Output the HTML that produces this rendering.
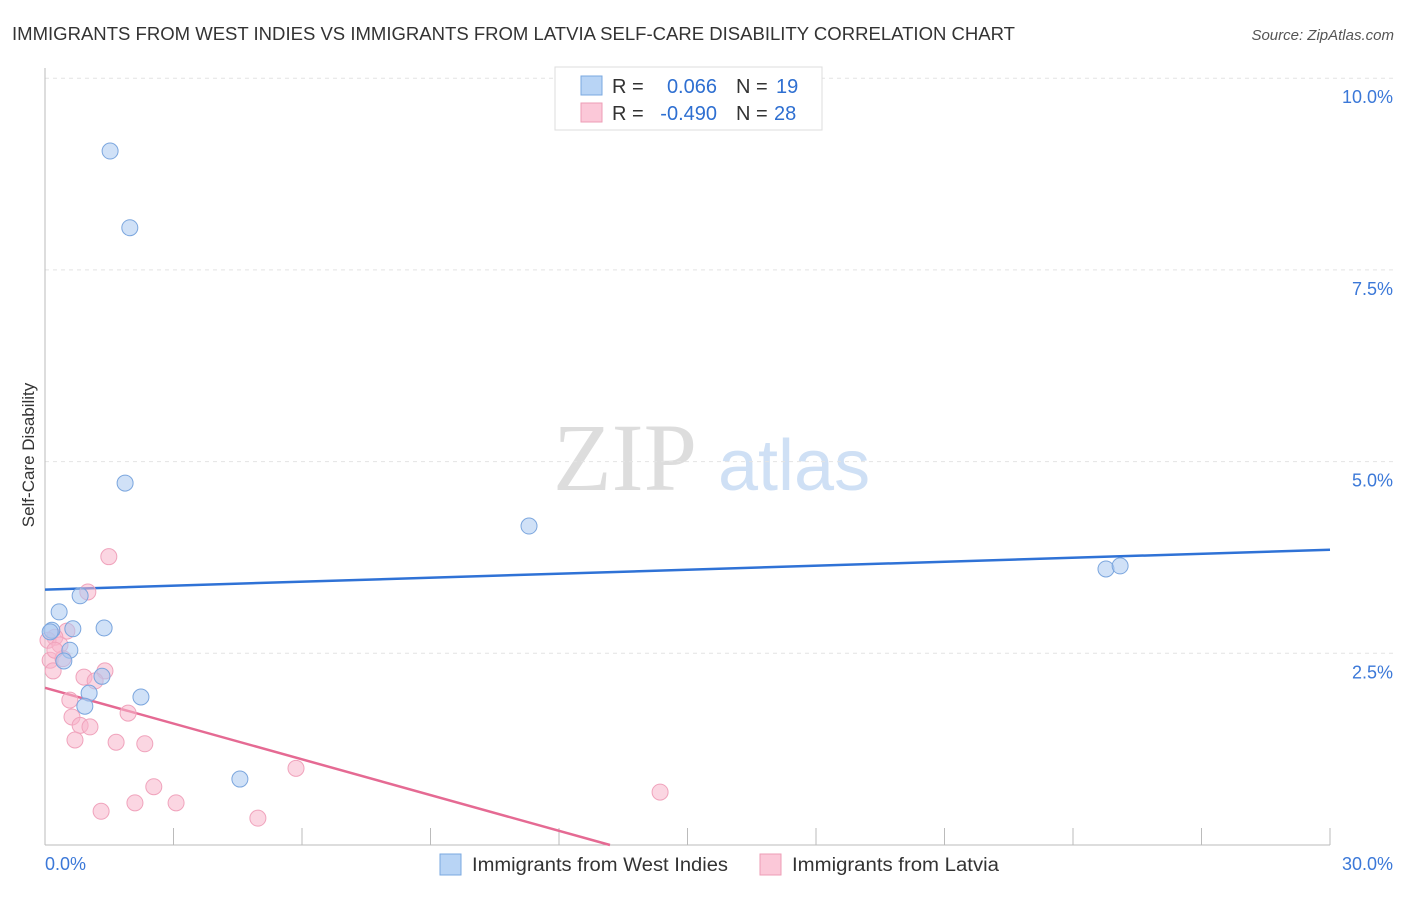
<!DOCTYPE html>
<html><head><meta charset="utf-8"><style>
body{margin:0;background:#fff;font-family:"Liberation Sans",sans-serif;}
</style></head><body>
<svg id="chart" width="1406" height="892" viewBox="0 0 1406 892" xmlns="http://www.w3.org/2000/svg">
<text x="12" y="40" font-size="18" fill="#333" textLength="1003" lengthAdjust="spacingAndGlyphs">IMMIGRANTS FROM WEST INDIES VS IMMIGRANTS FROM LATVIA SELF-CARE DISABILITY CORRELATION CHART</text>
<text x="1394" y="40" font-size="15" fill="#555" font-style="italic" text-anchor="end">Source: ZipAtlas.com</text>
<text x="553" y="490" font-size="96" fill="#ddd" font-family="Liberation Serif,serif">ZIP</text>
<text x="718" y="490" font-size="72" fill="#cfe0f5">atlas</text>
<text transform="translate(34,455) rotate(-90)" font-size="17" fill="#333" text-anchor="middle">Self-Care Disability</text>
<g id="grid"></g><g id="axes"></g><g id="lines"></g><g id="points"></g>
<g>
<rect x="555" y="67" width="267" height="63" fill="#fff" stroke="#ddd"/>
<rect x="581" y="76" width="21" height="19" fill="#b8d4f5" stroke="#7aa8e0"/>
<rect x="581" y="103" width="21" height="19" fill="#fbc8d8" stroke="#ee9db6"/>
<text x="612" y="93" font-size="20" fill="#333">R =</text><text x="717" y="93" font-size="20" fill="#2e6fd1" text-anchor="end">0.066</text>
<text x="736" y="93" font-size="20" fill="#333">N =</text><text x="776" y="93" font-size="20" fill="#2e6fd1">19</text>
<text x="612" y="120" font-size="20" fill="#333">R =</text><text x="717" y="120" font-size="20" fill="#2e6fd1" text-anchor="end">-0.490</text>
<text x="736" y="120" font-size="20" fill="#333">N =</text><text x="774" y="120" font-size="20" fill="#2e6fd1">28</text>
</g>
<g>
<rect x="440" y="854" width="21" height="21" fill="#b8d4f5" stroke="#7aa8e0"/>
<text x="472" y="871" font-size="19" fill="#333" textLength="256" lengthAdjust="spacingAndGlyphs">Immigrants from West Indies</text>
<rect x="760" y="854" width="21" height="21" fill="#fbc8d8" stroke="#ee9db6"/>
<text x="792" y="871" font-size="19" fill="#333" textLength="207" lengthAdjust="spacingAndGlyphs">Immigrants from Latvia</text>
</g>
</svg>
<script>
const blueX=[1.52,1.98,1.87,11.30,24.77,25.10,0.33,0.82,0.16,0.65,1.38,0.58,0.44,1.33,1.03,2.24,0.93,4.55,0.12];
const blueY=[9.05,8.05,4.72,4.16,3.60,3.64,3.04,3.25,2.80,2.82,2.83,2.54,2.40,2.20,1.98,1.93,1.81,0.86,2.78];
const pinkX=[1.49,1.00,0.51,0.23,0.07,0.35,0.12,0.42,0.19,1.40,0.91,1.17,0.58,1.94,0.63,0.82,1.05,0.70,1.66,2.33,5.86,2.54,14.36,2.10,3.06,1.31,4.97,0.23];
const pinkY=[3.76,3.30,2.79,2.71,2.67,2.61,2.41,2.43,2.27,2.27,2.19,2.14,1.89,1.72,1.67,1.56,1.54,1.37,1.34,1.32,1.00,0.76,0.69,0.55,0.55,0.44,0.35,2.54];
const blueTrendX=[0,30];const blueTrendY=[3.33,3.85];
const pinkTrendX=[0,13.19];const pinkTrendY=[2.05,0];
const yTicks=[2.5,5,7.5,10];const yTickLabels=["2.5%","5.0%","7.5%","10.0%"];
const xTicks=[3,6,9,12,15,18,21,24,27,30];
const NS="http://www.w3.org/2000/svg";
const sx=v=>45+v*(1285/30);
const sy=v=>845-v*76.68;
function mk(tag,attrs,parent){const e=document.createElementNS(NS,tag);for(const k in attrs)e.setAttribute(k,attrs[k]);document.getElementById(parent).appendChild(e);return e;}
yTicks.forEach((t,i)=>{
 const l=mk('line',{x1:45,x2:1394,y1:sy(t),y2:sy(t),stroke:'#e4e4e4','stroke-dasharray':'4,4'},'grid');
 
 
 const tx=mk('text',{x:1393,y:sy(t)+25,'font-size':18,fill:'#3b78d8','text-anchor':'end'},'axes');tx.textContent=yTickLabels[i];
 
 
});
const ya=mk('line',{x1:45,x2:45,y1:68,y2:845,stroke:'#bbb'},'axes');


const xa=mk('line',{x1:45,x2:1330,y1:845,y2:845,stroke:'#bbb'},'axes');


xTicks.forEach(t=>{const l=mk('line',{x1:sx(t),x2:sx(t),y1:828,y2:845,stroke:'#bbb'},'axes');
 
 });
const x0=mk('text',{x:45,y:870,'font-size':18,fill:'#3b78d8'},'axes');x0.textContent='0.0%';


const x1=mk('text',{x:1393,y:870,'font-size':18,fill:'#3b78d8','text-anchor':'end'},'axes');x1.textContent='30.0%';


const bl=mk('line',{x1:sx(blueTrendX[0]),y1:sy(blueTrendY[0]),x2:sx(blueTrendX[1]),y2:sy(blueTrendY[1]),stroke:'#2f72d6','stroke-width':2.5},'lines');


const pl=mk('line',{x1:sx(pinkTrendX[0]),y1:sy(pinkTrendY[0]),x2:sx(pinkTrendX[1]),y2:sy(pinkTrendY[1]),stroke:'#e56a93','stroke-width':2.5},'lines');


pinkX.forEach((v,i)=>{const c=mk('circle',{cx:sx(v),cy:sy(pinkY[i]),r:8,fill:'rgba(248,180,202,0.55)',stroke:'#f0a3bc','stroke-width':1},'points');
 
 });
blueX.forEach((v,i)=>{const c=mk('circle',{cx:sx(v),cy:sy(blueY[i]),r:8,fill:'rgba(170,200,240,0.55)',stroke:'#7ba6de','stroke-width':1},'points');
 
 });
</script>
</body></html>
